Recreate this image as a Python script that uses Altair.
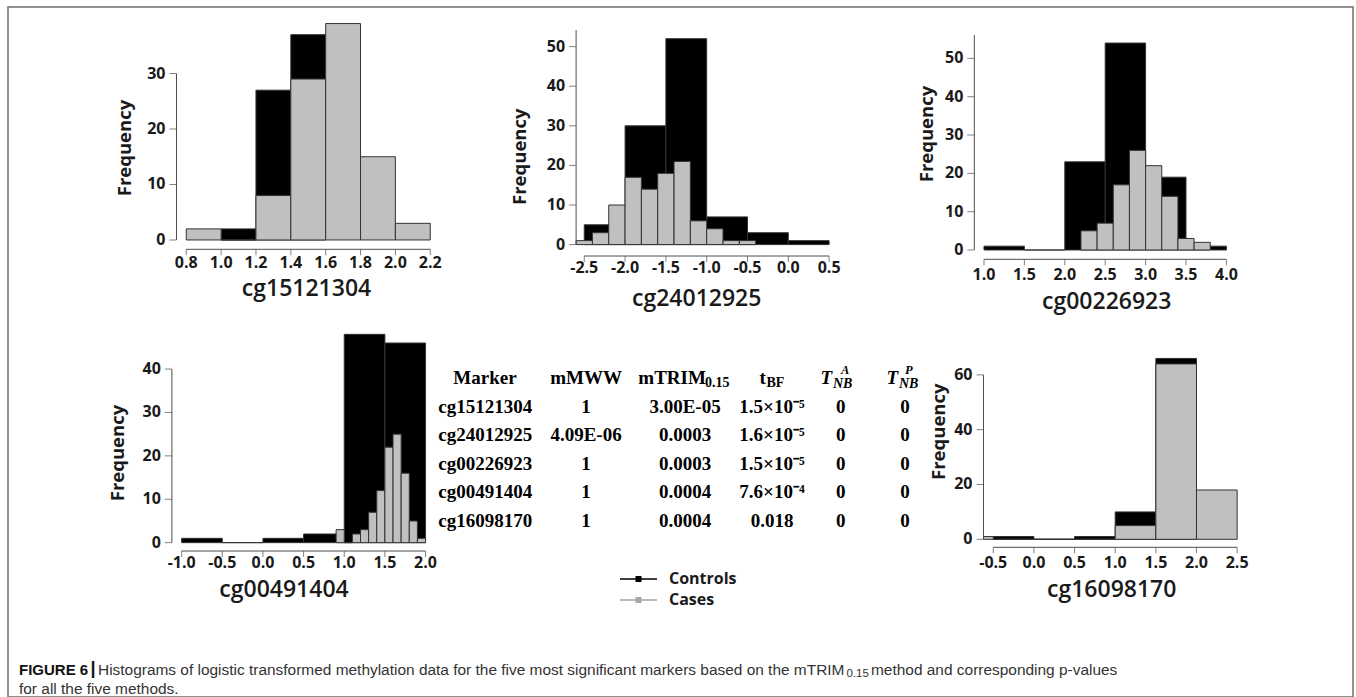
import altair as alt
import pandas as pd

# ---------------- data ----------------
h1_ctrl_edges = [1.0, 1.2, 1.4, 1.6]
h1_ctrl_counts = [2, 27, 37]
h1_case_edges = [0.8, 1.0, 1.2, 1.4, 1.6, 1.8, 2.0, 2.2]
h1_case_counts = [2, 0, 8, 29, 39, 15, 3]

h2_ctrl_edges = [-2.5, -2.0, -1.5, -1.0, -0.5, 0.0, 0.5]
h2_ctrl_counts = [5, 30, 52, 7, 3, 1]
h2_case_edges = [-2.6, -2.4, -2.2, -2.0, -1.8, -1.6, -1.4, -1.2, -1.0, -0.8, -0.6, -0.4]
h2_case_counts = [1, 3, 10, 17, 14, 18, 21, 6, 4, 1, 1]

h3_ctrl_edges = [1.0, 1.5, 2.0, 2.5, 3.0, 3.5, 4.0]
h3_ctrl_counts = [1, 0, 23, 54, 19, 1]
h3_case_edges = [2.2, 2.4, 2.6, 2.8, 3.0, 3.2, 3.4, 3.6, 3.8]
h3_case_counts = [5, 7, 17, 26, 22, 14, 3, 2]

h4_ctrl_edges = [-1.0, -0.5, 0.0, 0.5, 1.0, 1.5, 2.0]
h4_ctrl_counts = [1, 0, 1, 2, 48, 46]
h4_case_edges = [0.9, 1.0, 1.1, 1.2, 1.3, 1.4, 1.5, 1.6, 1.7, 1.8, 1.9, 2.0]
h4_case_counts = [3, 0, 2, 3, 7, 12, 22, 25, 16, 5, 1]

h5_ctrl_edges = [-0.5, 0.0, 0.5, 1.0, 1.5, 2.0]
h5_ctrl_counts = [1, 0, 1, 10, 66]
h5_case_edges = [-1.0, -0.5, 0.0, 0.5, 1.0, 1.5, 2.0, 2.5]
h5_case_counts = [1, 0, 0, 0, 5, 64, 18]

h1_xticks = [0.8, 1.0, 1.2, 1.4, 1.6, 1.8, 2.0, 2.2]
h2_xticks = [-2.5, -2.0, -1.5, -1.0, -0.5, 0.0, 0.5]
h3_xticks = [1.0, 1.5, 2.0, 2.5, 3.0, 3.5, 4.0]
h4_xticks = [-1.0, -0.5, 0.0, 0.5, 1.0, 1.5, 2.0]
h5_xticks = [-0.5, 0.0, 0.5, 1.0, 1.5, 2.0, 2.5]
h1_yticks = [0, 10, 20, 30]
h2_yticks = [0, 10, 20, 30, 40, 50]
h3_yticks = [0, 10, 20, 30, 40, 50]
h4_yticks = [0, 10, 20, 30, 40]
h5_yticks = [0, 20, 40, 60]

marker_names = ["cg15121304", "cg24012925", "cg00226923", "cg00491404", "cg16098170"]
col_mmww = ["1", "4.09E-06", "1", "1", "1"]
col_mtrim = ["3.00E-05", "0.0003", "0.0003", "0.0004", "0.0004"]
col_tbf = ["1.5×10⁻⁵", "1.6×10⁻⁵", "1.5×10⁻⁵", "7.6×10⁻⁴", "0.018"]
col_tnba = ["0", "0", "0", "0", "0"]
col_tnbp = ["0", "0", "0", "0", "0"]

legend_labels = ["Controls", "Cases"]

caption_bold = "FIGURE 6"
caption_a = ("Histograms of logistic transformed methylation data for the five most "
             "significant markers based on the mTRIM")
caption_sub = "0.15"
caption_b = "method and corresponding p-values"
caption_2 = "for all the five methods."

# ---------------- styling / layout ----------------
OX, OY = 8, 7            # plot-area origin on the page (frame corner)
W, H = 1345, 690
SANS = "Open Sans"
SERIF = "Liberation Serif"
CAP = "Liberation Sans"
LINE = "#4d4d4d"
TXT = "#1a1a1a"
BLACK = "#000000"
GREY = "#c0c0c0"
EDGE = "#333333"
TICK_FS = 16
XTITLE_FS = 23
YTITLE_FS = 18.5

panels = [
    dict(xdom=[0.744, 2.256], xpx=[176.5, 440.0], ydom=[-1.68, 40.56], ypx=[249.3, 14.9],
         ytop=30, xt=(306.5, 289), yt=(125, 148), lab=262.5),
    dict(xdom=[-2.6, 0.62], xpx=[576.1, 838.9], ydom=[-2.88, 54.2], ypx=[256, 30],
         ytop=54.2, xt=(696.7, 299), yt=(520, 156.7), lab=268),
    dict(xdom=[0.88, 4.12], xpx=[974.3, 1236.1], ydom=[-2.43, 56.1], ypx=[259.3, 35],
         ytop=56.1, xt=(1106.7, 302), yt=(926.7, 134), lab=275),
    dict(xdom=[-1.12, 2.12], xpx=[171.9, 435.3], ydom=[-1.92, 49.92], ypx=[551, 326],
         ytop=40, xt=(284, 589.5), yt=(118.3, 453), lab=562.5),
    dict(xdom=[-0.62, 2.62], xpx=[983.5, 1246.9], ydom=[-2.92, 68.6], ypx=[547.3, 351.3],
         ytop=60, xt=(1111.7, 590), yt=(939, 431.7), lab=563),
]


def bins(edges, counts):
    return pd.DataFrame({"x0": edges[:-1], "x1": edges[1:], "n": counts, "base": [0] * len(counts)})


def hist_panel(cfg, ce, cc, ke, kc, xticks, yticks, xtitle):
    xs = alt.Scale(domain=cfg["xdom"], range=[cfg["xpx"][0] - OX, cfg["xpx"][1] - OX],
                   nice=False, zero=False, clamp=True)
    ys = alt.Scale(domain=cfg["ydom"], range=[cfg["ypx"][0] - OY, cfg["ypx"][1] - OY],
                   nice=False, zero=False)
    ax_y = cfg["ypx"][0]   # page y of the x-axis line
    X = lambda f: alt.X(f, scale=xs, axis=None)
    Y = lambda f: alt.Y(f, scale=ys, axis=None)

    ctrl = alt.Chart(bins(ce, cc)).mark_rect(fill=BLACK, stroke=EDGE, strokeWidth=1).encode(
        x=X("x0:Q"), x2="x1:Q", y=Y("base:Q"), y2="n:Q")
    case = alt.Chart(bins(ke, kc)).mark_rect(fill=GREY, stroke=EDGE, strokeWidth=1).encode(
        x=X("x0:Q"), x2="x1:Q", y=Y("base:Q"), y2="n:Q")

    # x axis (R style: line from first to last tick at bottom of plot region)
    xl = pd.DataFrame({"a": [xticks[0]], "b": [xticks[-1]], "c": [cfg["ydom"][0]]})
    xline = alt.Chart(xl).mark_rule(color=LINE, strokeWidth=1).encode(
        x=X("a:Q"), x2="b:Q", y=Y("c:Q"))
    xt_df = pd.DataFrame({"v": xticks, "lab": [f"{v:.1f}" for v in xticks],
                          "c": [cfg["ydom"][0]] * len(xticks)})
    xtick = alt.Chart(xt_df).mark_tick(orient="vertical", size=6, thickness=1, color=LINE,
                                       yOffset=3).encode(x=X("v:Q"), y=Y("c:Q"))
    xlab = alt.Chart(xt_df).mark_text(font=SANS, fontSize=TICK_FS, fontWeight="bold", color=TXT,
                                      align="center", baseline="middle",
                                      dy=cfg["lab"] - ax_y).encode(
        x=X("v:Q"), y=Y("c:Q"), text="lab:N")

    # y axis
    yl = pd.DataFrame({"a": [cfg["xdom"][0]], "b": [0], "c": [cfg["ytop"]]})
    yline = alt.Chart(yl).mark_rule(color=LINE, strokeWidth=1).encode(
        x=X("a:Q"), y=Y("b:Q"), y2="c:Q")
    yt_df = pd.DataFrame({"v": yticks, "lab": [str(v) for v in yticks],
                          "a": [cfg["xdom"][0]] * len(yticks)})
    ytick = alt.Chart(yt_df).mark_tick(orient="horizontal", size=7, thickness=1, color=LINE,
                                       xOffset=-3.5).encode(x=X("a:Q"), y=Y("v:Q"))
    ylab = alt.Chart(yt_df).mark_text(font=SANS, fontSize=TICK_FS, fontWeight="bold", color=TXT,
                                      align="right", baseline="middle", dx=-11).encode(
        x=X("a:Q"), y=Y("v:Q"), text="lab:N")

    # axis titles
    xtitle_m = alt.Chart(pd.DataFrame({"t": [xtitle]})).mark_text(
        font=SANS, fontSize=XTITLE_FS, fontWeight=600, color=TXT, align="center",
        baseline="middle").encode(x=alt.value(cfg["xt"][0] - OX),
                                  y=alt.value(cfg["xt"][1] - OY), text="t:N")
    ytitle_m = alt.Chart(pd.DataFrame({"t": ["Frequency"]})).mark_text(
        font=SANS, fontSize=YTITLE_FS, fontWeight="bold", color=TXT, align="center",
        baseline="middle", angle=270).encode(x=alt.value(cfg["yt"][0] - OX),
                                             y=alt.value(cfg["yt"][1] - OY), text="t:N")
    return alt.layer(ctrl, case, xline, xtick, xlab, yline, ytick, ylab, xtitle_m, ytitle_m)


h1 = hist_panel(panels[0], h1_ctrl_edges, h1_ctrl_counts, h1_case_edges, h1_case_counts,
                h1_xticks, h1_yticks, "cg15121304")
h2 = hist_panel(panels[1], h2_ctrl_edges, h2_ctrl_counts, h2_case_edges, h2_case_counts,
                h2_xticks, h2_yticks, "cg24012925")
h3 = hist_panel(panels[2], h3_ctrl_edges, h3_ctrl_counts, h3_case_edges, h3_case_counts,
                h3_xticks, h3_yticks, "cg00226923")
h4 = hist_panel(panels[3], h4_ctrl_edges, h4_ctrl_counts, h4_case_edges, h4_case_counts,
                h4_xticks, h4_yticks, "cg00491404")
h5 = hist_panel(panels[4], h5_ctrl_edges, h5_ctrl_counts, h5_case_edges, h5_case_counts,
                h5_xticks, h5_yticks, "cg16098170")

# ---------------- table ----------------
ty = alt.Scale(domain=[0, 5], range=[378.3 - OY, 520.8 - OY], nice=False, zero=False)
rows = list(range(1, 6))


def tcol(values, xpage, align="center"):
    df = pd.DataFrame({"row": rows, "t": values})
    return alt.Chart(df).mark_text(font=SERIF, fontSize=19, fontWeight="bold", color=BLACK,
                                   align=align, baseline="middle").encode(
        x=alt.value(xpage - OX), y=alt.Y("row:Q", scale=ty, axis=None), text="t:N")


def hdr(text, xpage, size=19, dy=0, italic=False, align="left"):
    df = pd.DataFrame({"row": [0], "t": [text]})
    return alt.Chart(df).mark_text(font=SERIF, fontSize=size, fontWeight="bold",
                                   fontStyle="italic" if italic else "normal", color=BLACK,
                                   align=align, baseline="middle", dy=dy).encode(
        x=alt.value(xpage - OX), y=alt.Y("row:Q", scale=ty, axis=None), text="t:N")


table = alt.layer(
    hdr("Marker", 485, align="center"),
    hdr("mMWW", 586, align="center"),
    hdr("mTRIM", 638.3), hdr("0.15", 705, size=14, dy=5),
    hdr("t", 759.5), hdr("BF", 766.5, size=14, dy=5),
    hdr("T", 820.5, italic=True), hdr("NB", 833, size=14, dy=6, italic=True),
    hdr("A", 841, size=12.5, dy=-8, italic=True),
    hdr("T", 886.5, italic=True), hdr("NB", 899, size=14, dy=6, italic=True),
    hdr("P", 905, size=12.5, dy=-8, italic=True),
    tcol(marker_names, 438.3, align="left"),
    tcol(col_mmww, 586),
    tcol(col_mtrim, 685),
    tcol(col_tbf, 772),
    tcol(col_tnba, 840.7),
    tcol(col_tnbp, 905),
)


# ---------------- legend ----------------
def legend_item(label, color, ypage):
    d = pd.DataFrame({"t": [label]})
    line = alt.Chart(d).mark_rule(color=color, strokeWidth=1.6).encode(
        x=alt.value(620 - OX), x2=alt.value(657 - OX), y=alt.value(ypage - OY))
    sq = alt.Chart(d).mark_square(color=color, size=36, opacity=1).encode(
        x=alt.value(638.5 - OX), y=alt.value(ypage - OY))
    txt = alt.Chart(d).mark_text(font=SANS, fontSize=16, fontWeight="bold", color=TXT,
                                 align="left", baseline="middle").encode(
        x=alt.value(669 - OX), y=alt.value(ypage - OY), text="t:N")
    return alt.layer(line, sq, txt)


legend = alt.layer(legend_item(legend_labels[0], BLACK, 579),
                   legend_item(legend_labels[1], "#a6a6a6", 600))


# ---------------- caption ----------------
CAP_FS = 15.45


def cap_text(text, xpage, ypage, size=CAP_FS, weight="normal", color="#333333"):
    return alt.Chart(pd.DataFrame({"t": [text]})).mark_text(
        font=CAP, fontSize=size, fontWeight=weight, color=color, align="left",
        baseline="middle").encode(x=alt.value(xpage - OX), y=alt.value(ypage - OY), text="t:N")


caption = alt.layer(
    cap_text(caption_bold, 19, 670, size=15, weight="bold", color="#111111"),
    cap_text("|", 90.5, 668.5, size=18, weight="bold", color="#111111"),
    cap_text(caption_a, 98, 670),
    cap_text(caption_sub, 846.5, 674, size=11.5),
    cap_text(caption_b, 871, 670),
    cap_text(caption_2, 19, 689),
)

chart = alt.layer(h1, h2, h3, h4, h5, table, legend, caption).resolve_scale(
    x="independent", y="independent"
).properties(
    width=W, height=H,
    padding={"left": OX, "top": OY, "right": 1356 - OX - W, "bottom": 0},
    autosize=alt.AutoSizeParams(type="none"),
).configure(background="white").configure_view(stroke="#6e6e6e", strokeWidth=1.5)

chart.save("out.html", embed_options={"renderer": "svg", "actions": False})
